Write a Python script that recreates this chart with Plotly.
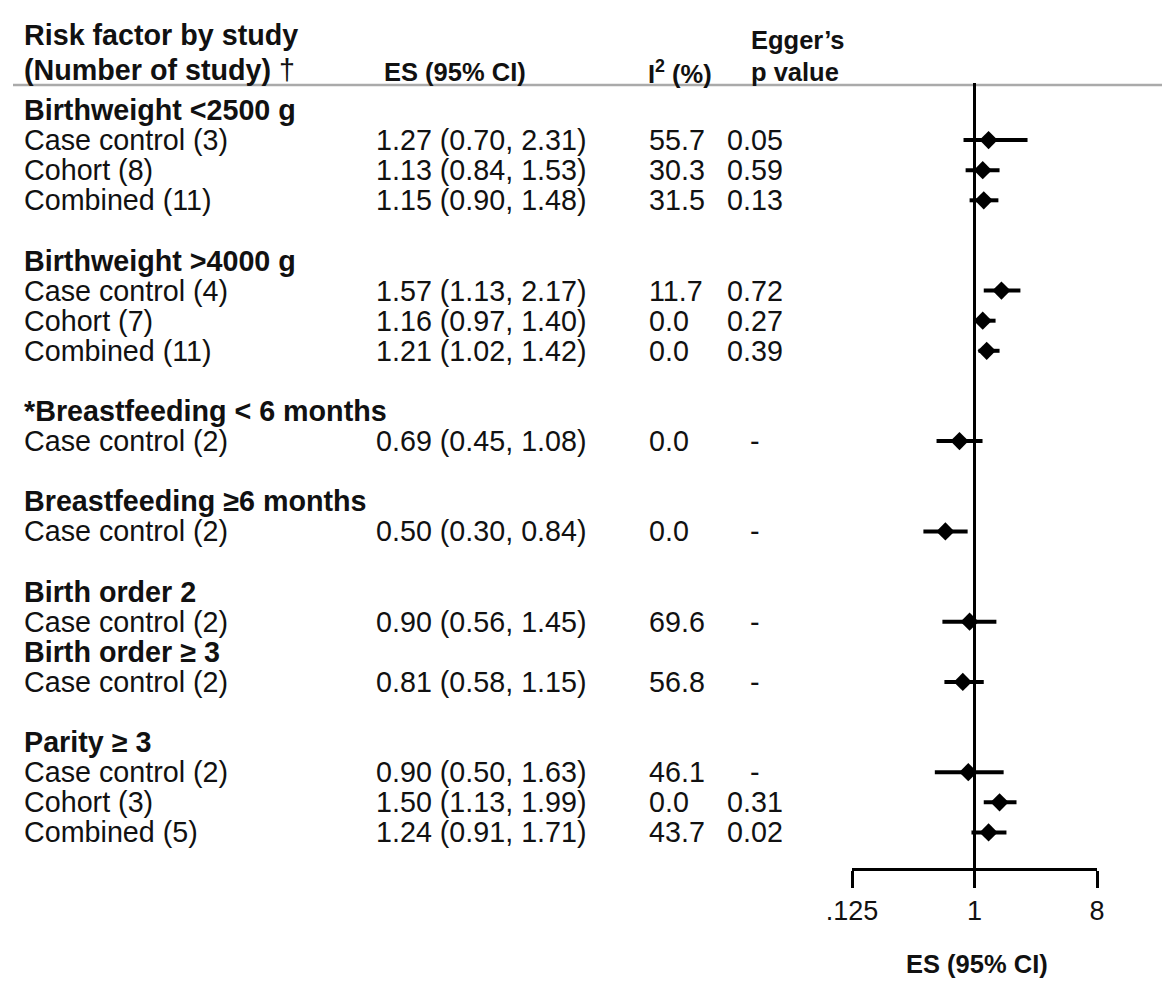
import plotly.graph_objects as go

# Forest plot: risk factors, effect size with 95% CI
groups = ["Birthweight <2500 g", "Birthweight >4000 g", "*Breastfeeding < 6 months",
          "Breastfeeding ≥6 months", "Birth order 2", "Birth order ≥ 3", "Parity ≥ 3"]
gap_before = [False, True, True, True, True, False, True]

studies = [
    ["Case control (3)", "Cohort (8)", "Combined (11)"],
    ["Case control (4)", "Cohort (7)", "Combined (11)"],
    ["Case control (2)"],
    ["Case control (2)"],
    ["Case control (2)"],
    ["Case control (2)"],
    ["Case control (2)", "Cohort (3)", "Combined (5)"],
]
es_text = [
    ["1.27 (0.70, 2.31)", "1.13 (0.84, 1.53)", "1.15 (0.90, 1.48)"],
    ["1.57 (1.13, 2.17)", "1.16 (0.97, 1.40)", "1.21 (1.02, 1.42)"],
    ["0.69 (0.45, 1.08)"],
    ["0.50 (0.30, 0.84)"],
    ["0.90 (0.56, 1.45)"],
    ["0.81 (0.58, 1.15)"],
    ["0.90 (0.50, 1.63)", "1.50 (1.13, 1.99)", "1.24 (0.91, 1.71)"],
]
i2 = [
    ["55.7", "30.3", "31.5"],
    ["11.7", "0.0", "0.0"],
    ["0.0"],
    ["0.0"],
    ["69.6"],
    ["56.8"],
    ["46.1", "0.0", "43.7"],
]
egger = [
    ["0.05", "0.59", "0.13"],
    ["0.72", "0.27", "0.39"],
    ["-"],
    ["-"],
    ["-"],
    ["-"],
    ["-", "0.31", "0.02"],
]
# point estimate and CI as drawn in the plot panel
es_plot = [[1.27, 1.15, 1.17], [1.58, 1.15, 1.23], [0.775], [0.61], [0.92], [0.82], [0.90, 1.53, 1.27]]
lo_plot = [[0.83, 0.86, 0.92], [1.17, 1.05, 1.07], [0.525], [0.42], [0.58], [0.60], [0.51, 1.17, 0.95]]
hi_plot = [[2.46, 1.53, 1.50], [2.18, 1.43, 1.53], [1.146], [0.89], [1.45], [1.17], [1.64, 2.04, 1.72]]

FONT = "Liberation Sans, Arial, sans-serif"
OFF = 8  # page body margin
W, H = 1170 - OFF, 984 - OFF
TOP, BOTTOM = 82 - OFF, 868 - OFF   # plot area, figure pixels
ROW0, ROWH = 110 - OFF, 30.1


def px(x):
    # page pixel -> paper x
    return (x - OFF) / W


def py(y):
    # page pixel -> paper y
    return (BOTTOM - (y - OFF)) / (BOTTOM - TOP)


# build rows
row_y, row_txt, row_bold = [], [], []
pt_y, pt_x, pt_lo, pt_hi = [], [], [], []
cells = []
idx = 0
for g, name in enumerate(groups):
    if g > 0:
        idx += 2 if gap_before[g] else 1
    row_y.append(idx); row_txt.append(name); row_bold.append(True)
    for k, s in enumerate(studies[g]):
        idx += 1
        row_y.append(idx); row_txt.append(s); row_bold.append(False)
        cells.append((idx, es_text[g][k], i2[g][k], egger[g][k]))
        pt_y.append(idx)
        pt_x.append(es_plot[g][k])
        pt_lo.append(lo_plot[g][k])
        pt_hi.append(hi_plot[g][k])

ymin = -(ROW0 - TOP) / ROWH
ymax = ymin + (BOTTOM - TOP) / ROWH

fig = go.Figure()
fig.add_trace(go.Scatter(
    x=pt_x, y=pt_y, mode="markers",
    marker=dict(symbol="diamond", size=14, color="black"),
    error_x=dict(type="data", symmetric=False,
                 array=[h - p for h, p in zip(pt_hi, pt_x)],
                 arrayminus=[p - l for p, l in zip(pt_x, pt_lo)],
                 width=0, thickness=4, color="black"),
    showlegend=False, hoverinfo="skip", cliponaxis=False,
))

body = dict(family=FONT, size=28.7, color="#111")
ann = []
for y, t, b in zip(row_y, row_txt, row_bold):
    ann.append(dict(x=px(22), y=y, xref="paper", yref="y", xanchor="left", yanchor="middle",
                    text=f"<b>{t}</b>" if b else t, showarrow=False, font=body))
for y, e, i, p in cells:
    ann.append(dict(x=px(374), y=y, xref="paper", yref="y", xanchor="left", yanchor="middle",
                    text=e, showarrow=False, font=body))
    ann.append(dict(x=px(647), y=y, xref="paper", yref="y", xanchor="left", yanchor="middle",
                    text=i, showarrow=False, font=body))
    ann.append(dict(x=px(755), y=y, xref="paper", yref="y", xanchor="center", yanchor="middle",
                    text=p, showarrow=False, font=body))

# column headers
hdr = dict(family=FONT, size=28.7, color="#111")
hdr2 = dict(family=FONT, size=25.5, color="#111")
ann += [
    dict(x=px(22), y=py(35), text="<b>Risk factor by study</b>", font=hdr),
    dict(x=px(22), y=py(70), text="<b>(Number of study)</b> †", font=hdr),
    dict(x=px(382), y=py(72), text="<b>ES (95% CI)</b>", font=hdr2),
    dict(x=px(646), y=py(72), text="<b>I<sup>2</sup> (%)</b>", font=hdr2),
    dict(x=px(749), y=py(40), text="<b>Egger’s</b>", font=hdr2),
    dict(x=px(749), y=py(72), text="<b>p value</b>", font=hdr2),
]
for a in ann[-6:]:
    a.update(xref="paper", yref="paper", xanchor="left", yanchor="middle", showarrow=False)

ann.append(dict(x=px(977), y=py(964), xref="paper", yref="paper", xanchor="center",
                yanchor="middle", text="<b>ES (95% CI)</b>", showarrow=False, font=hdr2))

fig.update_layout(
    width=W, height=H, autosize=False,
    margin=dict(l=0, r=0, t=TOP, b=H - BOTTOM, pad=0, autoexpand=False),
    paper_bgcolor="white", plot_bgcolor="white",
    annotations=ann,
    shapes=[
        dict(type="line", xref="paper", yref="paper", x0=px(13), x1=px(1163),
             y0=py(85), y1=py(85), line=dict(color="#aaaaaa", width=2.5)),
        dict(type="line", xref="x", yref="paper", x0=1, x1=1, y0=0, y1=py(83),
             line=dict(color="black", width=3)),
    ],
    xaxis=dict(type="log", domain=[px(852), px(1097)],
               range=[-0.90309, 0.90309],
               tickvals=[0.125, 1, 8], ticktext=[".125", "1", "8"],
               ticks="outside", ticklen=17, tickwidth=3, tickcolor="black",
               showline=True, linewidth=3, linecolor="black",
               showgrid=False, zeroline=False, automargin=False,
               tickfont=dict(family=FONT, size=27, color="#111")),
    yaxis=dict(range=[ymax, ymin], visible=False, showgrid=False, zeroline=False,
               automargin=False),
)

fig.write_html("out.html")
